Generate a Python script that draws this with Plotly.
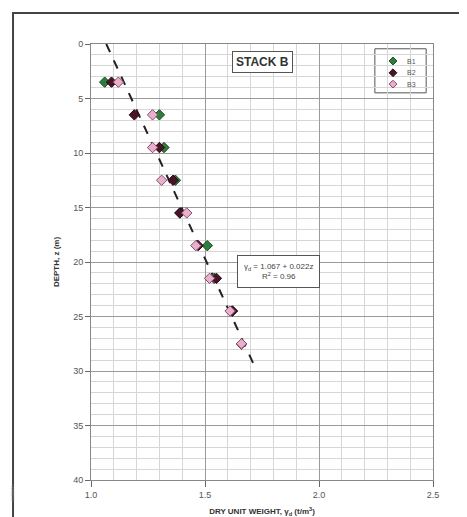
import plotly.graph_objects as go

depth = [3.5, 6.5, 9.5, 12.5, 15.5, 18.5, 21.5, 24.5, 27.5]
b1 = [1.06, 1.30, 1.32, 1.37, 1.39, 1.51, 1.54, 1.62, 1.66]
b2 = [1.09, 1.19, 1.30, 1.36, 1.39, 1.47, 1.55, 1.62, 1.66]
b3 = [1.12, 1.27, 1.27, 1.31, 1.42, 1.46, 1.52, 1.61, 1.66]

fit_a = 1.067
fit_b = 0.022
fit_z = [0, 30]
fit_x = [fit_a + fit_b * z for z in fit_z]

x_ticks = [1.0, 1.5, 2.0, 2.5]
x_tick_labels = ["1.0", "1.5", "2.0", "2.5"]
y_ticks = [0, 5, 10, 15, 20, 25, 30, 35, 40]

series_names = ["B1", "B2", "B3"]
series_vals = [b1, b2, b3]
series_fill = ["#2e7d3a", "#4a1428", "#e8b0cc"]
series_edge = ["#1a4a22", "#2a0a18", "#8a4a6a"]

fig = go.Figure()

fig.add_trace(go.Scatter(
    x=fit_x, y=fit_z, mode="lines",
    line=dict(color="#222222", width=2, dash="dash"),
    showlegend=False, hoverinfo="skip"))

for name, vals, fill, edge in zip(series_names, series_vals, series_fill, series_edge):
    fig.add_trace(go.Scatter(
        x=vals, y=depth, mode="markers", name=name, showlegend=False,
        marker=dict(symbol="diamond", size=8, color=fill,
                    line=dict(color=edge, width=1))))

# manual legend (paper-like overlay axes)
leg_x = 0.883
leg_y = [0.961, 0.934, 0.908]
fig.add_trace(go.Scatter(
    x=[leg_x] * 3, y=leg_y, mode="markers", xaxis="x2", yaxis="y2",
    showlegend=False, hoverinfo="skip",
    marker=dict(symbol="diamond", size=6, color=series_fill,
                line=dict(color=series_edge, width=1))))
for name, yy in zip(series_names, leg_y):
    fig.add_annotation(x=0.918, y=yy, xref="paper", yref="paper",
                       text=name, showarrow=False, xanchor="left", yanchor="middle",
                       font=dict(size=7, color="#555555"))
fig.add_shape(type="rect", xref="paper", yref="paper",
              x0=0.830, x1=0.980, y0=0.888, y1=0.989,
              line=dict(color="#555555", width=1), fillcolor="white", layer="below")

fig.update_layout(
    width=459, height=509,
    margin=dict(l=83, r=34, t=36, b=37, autoexpand=False),
    paper_bgcolor="white", plot_bgcolor="white",
    font=dict(family="Arial, Liberation Sans, sans-serif", size=8, color="#555555"),
    showlegend=False,
    xaxis=dict(range=[1.0, 2.5], tickvals=x_ticks, ticktext=x_tick_labels,
               automargin=False,
               tickfont=dict(size=9, color="#555555"),
               showgrid=True, gridcolor="#9a9a9a", gridwidth=1,
               minor=dict(dtick=0.1, showgrid=True, gridcolor="#d6d6d6", gridwidth=1),
               ticks="outside", ticklen=6, tickcolor="#666666",
               showline=True, linecolor="#888888", linewidth=1, mirror=True,
               zeroline=False,
               title=dict(text="<b>DRY UNIT WEIGHT, γ<sub>d</sub> (t/m<sup>3</sup>)</b>",
                          font=dict(size=8, color="#333333"), standoff=12)),
    yaxis=dict(range=[40, 0], tickvals=y_ticks,
               automargin=False,
               tickfont=dict(size=9, color="#555555"),
               showgrid=True, gridcolor="#9a9a9a", gridwidth=1,
               minor=dict(dtick=1, showgrid=True, gridcolor="#d6d6d6", gridwidth=1),
               ticks="outside", ticklen=5, tickcolor="#666666",
               showline=True, linecolor="#888888", linewidth=1, mirror=True,
               zeroline=False,
               title=dict(text="<b>DEPTH, z (m)</b>",
                          font=dict(size=8, color="#333333"), standoff=12)),
    xaxis2=dict(overlaying="x", range=[0, 1], visible=False),
    yaxis2=dict(overlaying="y", range=[0, 1], visible=False),
)

fig.add_annotation(
    x=0.501, y=0.958, xref="paper", yref="paper", xanchor="center", yanchor="middle",
    text="<b>STACK B</b>", showarrow=False,
    font=dict(size=12, color="#333333"),
    bgcolor="white", bordercolor="#555555", borderwidth=1, borderpad=3)

fig.add_annotation(
    x=0.547, y=0.479, xref="paper", yref="paper", xanchor="center", yanchor="middle",
    text="γ<sub>d</sub> = 1.067 + 0.022z<br>R<sup>2</sup> = 0.96",
    showarrow=False, align="center",
    font=dict(size=8, color="#444444"),
    bgcolor="white", bordercolor="#555555", borderwidth=1, borderpad=6)

# outer frame
fig.add_shape(type="rect", xref="paper", yref="paper",
              x0=-0.228, x1=1.12, y0=-0.1, y1=1.071,
              line=dict(color="#444444", width=2), fillcolor="rgba(0,0,0,0)",
              layer="below")

fig.add_annotation(
    x=-0.245, y=-0.053, xref="paper", yref="paper",
    text="0000000", showarrow=False, textangle=-90,
    font=dict(size=4, color="#999999"))

fig.write_html("out.html")
